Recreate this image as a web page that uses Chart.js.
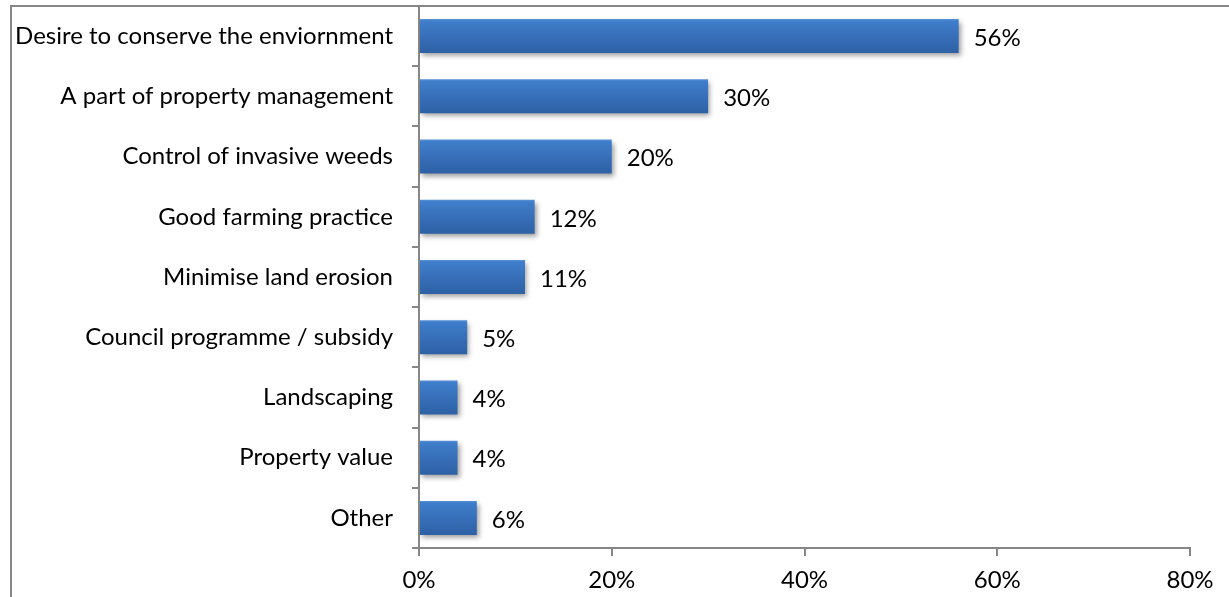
<!DOCTYPE html>
<html>
<head>
<meta charset="utf-8">
<style>
  html, body { margin: 0; padding: 0; background: #ffffff; }
  #wrap { position: relative; width: 1229px; height: 597px; overflow: hidden; }
  canvas { display: block; }
</style>
<script src="https://cdn.jsdelivr.net/npm/chart.js@4/dist/chart.umd.min.js"></script>
</head>
<body>
<div id="wrap"><canvas id="chart" width="1229" height="597"></canvas></div>
<script>
// Reasons given for the work (percent of respondents)
const categories = [
  'Desire to conserve the enviornment',
  'A part of property management',
  'Control of invasive weeds',
  'Good farming practice',
  'Minimise land erosion',
  'Council programme / subsidy',
  'Landscaping',
  'Property value',
  'Other'
];
const percentValues = [56, 30, 20, 12, 11, 5, 4, 4, 6];
const axisTicks = [0, 20, 40, 60, 80];

const FONT_FAMILY = 'Lato, "Open Sans", sans-serif';
const FONT_SIZE = 24;
const AXIS_GREY = '#878787';

// Outer frame around the chart (left and top edges)
const framePlugin = {
  id: 'frame',
  beforeDraw(chart) {
    const ctx = chart.ctx;
    ctx.save();
    ctx.strokeStyle = AXIS_GREY;
    ctx.lineWidth = 2;
    ctx.beginPath();
    ctx.moveTo(11, 597);
    ctx.lineTo(11, 6);
    ctx.lineTo(1229, 6);
    ctx.stroke();
    ctx.restore();
  }
};

// Vertical gradient per bar plus a soft drop shadow
const barStylePlugin = {
  id: 'barStyle',
  beforeDatasetDraw(chart, args) {
    const ctx = chart.ctx;
    const meta = args.meta;
    meta.data.forEach(bar => {
      const top = bar.y - bar.height / 2;
      const bottom = bar.y + bar.height / 2;
      const g = ctx.createLinearGradient(0, top, 0, bottom);
      g.addColorStop(0, '#5a92d8');
      g.addColorStop(0.06, '#3f7ecb');
      g.addColorStop(0.5, '#376fb9');
      g.addColorStop(1, '#2d61a5');
      bar.options = Object.assign({}, bar.options, { backgroundColor: g });
    });
    ctx.save();
    ctx.shadowColor = 'rgba(0, 0, 0, 0.38)';
    ctx.shadowBlur = 5;
    ctx.shadowOffsetX = 2;
    ctx.shadowOffsetY = 3;
  },
  afterDatasetDraw(chart) {
    chart.ctx.restore();
  }
};

// Percentage label to the right of each bar
const valueLabelPlugin = {
  id: 'valueLabels',
  afterDatasetsDraw(chart) {
    const ctx = chart.ctx;
    const meta = chart.getDatasetMeta(0);
    ctx.save();
    ctx.font = FONT_SIZE + 'px ' + FONT_FAMILY;
    ctx.fillStyle = '#000000';
    ctx.textAlign = 'left';
    ctx.textBaseline = 'middle';
    meta.data.forEach((bar, i) => {
      const v = chart.data.datasets[0].data[i];
      ctx.fillText(v + '%', bar.x + 15, bar.y + 2);
    });
    ctx.restore();
  }
};

new Chart(document.getElementById('chart'), {
  type: 'bar',
  data: {
    labels: categories,
    datasets: [{
      data: percentValues,
      backgroundColor: '#3874c0',
      borderWidth: 0,
      categoryPercentage: 1,
      barPercentage: 0.565
    }]
  },
  plugins: [framePlugin, barStylePlugin, valueLabelPlugin],
  options: {
    indexAxis: 'y',
    responsive: false,
    animation: false,
    devicePixelRatio: 1,
    layout: { padding: { top: 6, right: 39, left: 0, bottom: 0 } },
    plugins: {
      legend: { display: false },
      tooltip: { enabled: false }
    },
    scales: {
      x: {
        min: 0,
        max: 80,
        afterBuildTicks(scale) {
          scale.ticks = axisTicks.map(v => ({ value: v }));
        },
        afterFit(scale) {
          scale.height = 49;
          scale.paddingLeft = 0;
          scale.paddingRight = 0;
        },
        border: { display: true, color: AXIS_GREY, width: 2 },
        grid: {
          drawOnChartArea: false,
          drawTicks: true,
          tickLength: 8,
          color: AXIS_GREY,
          lineWidth: 2
        },
        ticks: {
          padding: 10,
          color: '#000000',
          maxRotation: 0,
          font: { family: FONT_FAMILY, size: FONT_SIZE },
          callback: (v) => v + '%'
        }
      },
      y: {
        afterFit(scale) {
          scale.width = 419;
          scale.paddingTop = 0;
          scale.paddingBottom = 0;
        },
        border: { display: true, color: AXIS_GREY, width: 2 },
        grid: {
          offset: true,
          drawOnChartArea: false,
          drawTicks: true,
          tickLength: 7,
          color: AXIS_GREY,
          lineWidth: 2
        },
        ticks: {
          padding: 19,
          color: '#000000',
          autoSkip: false,
          font: { family: FONT_FAMILY, size: FONT_SIZE }
        }
      }
    }
  }
});
</script>
</body>
</html>
